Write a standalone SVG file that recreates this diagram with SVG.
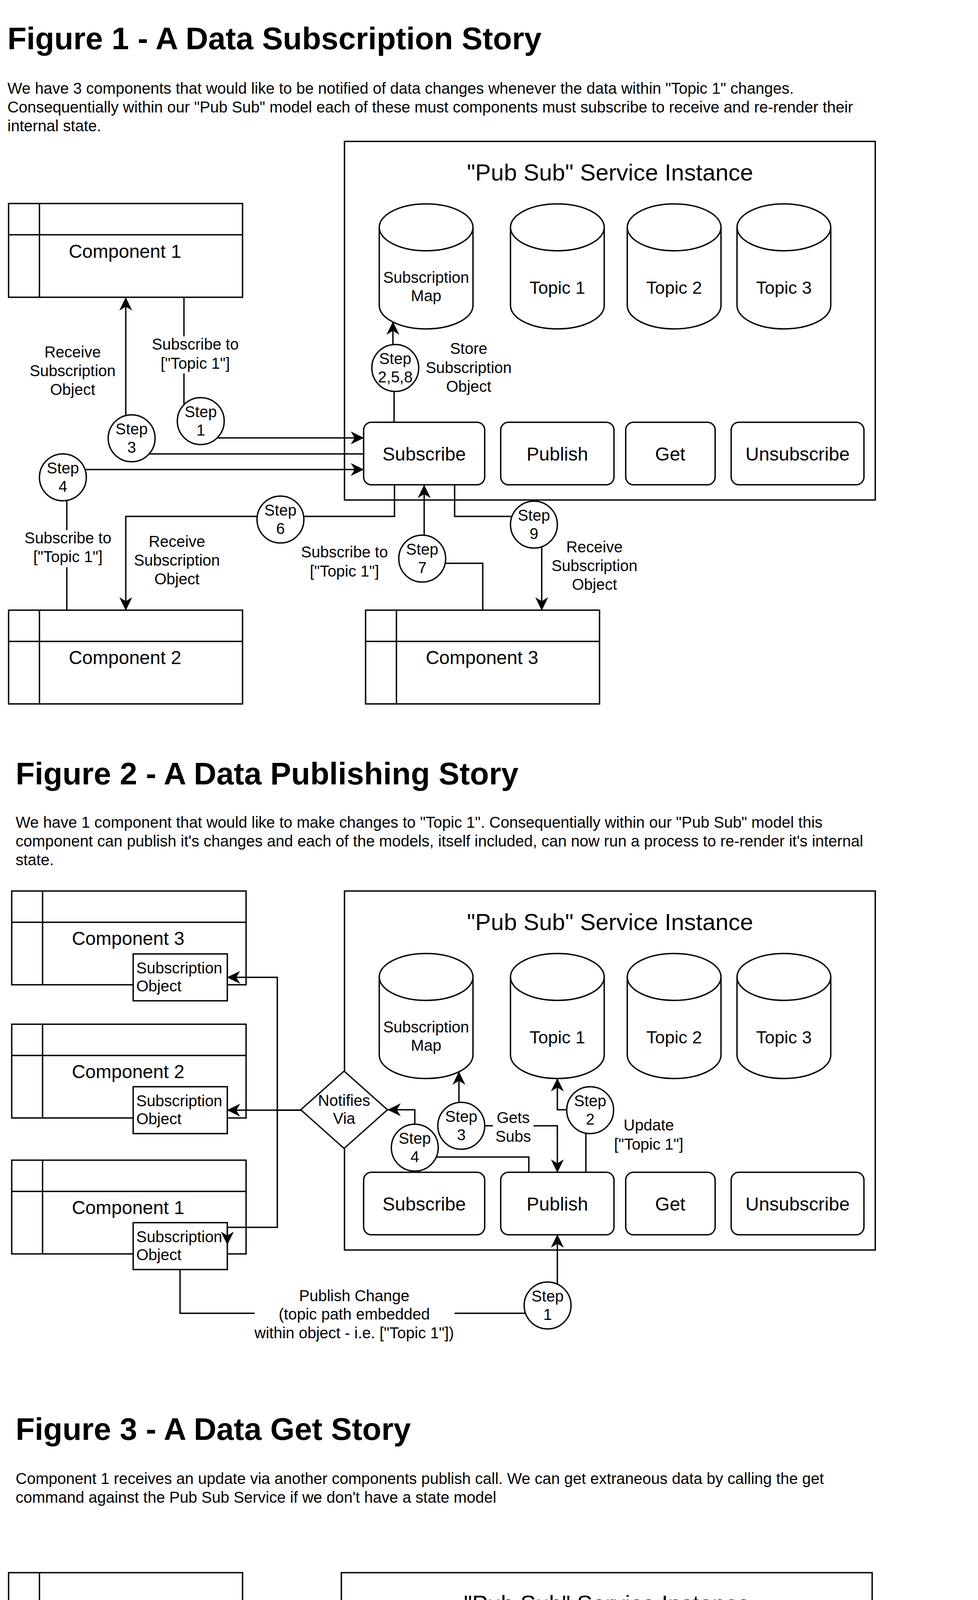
<svg xmlns="http://www.w3.org/2000/svg" width="2504" height="7724" viewBox="0 0 2504 7724">
<defs>
<style>
.b{fill:#fff;stroke:#000;stroke-width:3.5}
.s{fill:none;stroke:#000;stroke-width:3.5}
.e{fill:none;stroke:#000;stroke-width:3.5}
.a{marker-end:url(#arr)}
.w{fill:#fff;stroke:none}
text{font-family:"Liberation Sans",Arial,Helvetica,sans-serif;fill:#000}
.c{text-anchor:middle}
.f40{font-size:40px}
.f45{font-size:45px}
.f48{font-size:48px}
.f60{font-size:60px}
.h{font-size:80px;font-weight:bold}
</style>
<marker id="arr" markerUnits="userSpaceOnUse" markerWidth="34" markerHeight="33" viewBox="0 0 34 33" refX="33" refY="16.5" orient="auto">
<path d="M0,0 L34,16.5 L0,33 L10,16.5 Z" fill="#000"/>
</marker>
</defs>
<rect x="0" y="0" width="2504" height="7724" fill="#fff"/>

<!-- ================= FIGURE 1 ================= -->
<g id="fig1-heading">
<text x="19" y="126" class="h">Figure 1 - A Data Subscription Story</text>
<text x="19" y="240" class="f40">We have 3 components that would like to be notified of data changes whenever the data within "Topic 1" changes.</text>
<text x="19" y="288" class="f40">Consequentially within our "Pub Sub" model each of these must components must subscribe to receive and re-render their</text>
<text x="19" y="336" class="f40">internal state.</text>
</g>
<g id="fig1-service">
<rect x="882" y="362" width="1359" height="918" class="b"/>
<text x="1562" y="462" class="c f60">"Pub Sub" Service Instance</text>
</g>
<g id="fig1-subscription-map">
<path d="M971,582 a120,60 0 0 1 240,0 v200 a120,60 0 0 1 -240,0 z M971,582 a120,60 0 0 0 240,0" class="b"/>
<text x="1091" y="724" class="c f40">Subscription</text><text x="1091" y="771" class="c f40">Map</text>
</g>
<g id="fig1-topic1">
<path d="M1307,582 a120,60 0 0 1 240,0 v200 a120,60 0 0 1 -240,0 z M1307,582 a120,60 0 0 0 240,0" class="b"/>
<text x="1427" y="752" class="c f45">Topic 1</text>
</g>
<g id="fig1-topic2">
<path d="M1606,582 a120,60 0 0 1 240,0 v200 a120,60 0 0 1 -240,0 z M1606,582 a120,60 0 0 0 240,0" class="b"/>
<text x="1726" y="752" class="c f45">Topic 2</text>
</g>
<g id="fig1-topic3">
<path d="M1887,582 a120,60 0 0 1 240,0 v200 a120,60 0 0 1 -240,0 z M1887,582 a120,60 0 0 0 240,0" class="b"/>
<text x="2007" y="752" class="c f45">Topic 3</text>
</g>
<g id="fig1-subscribe"><rect x="931" y="1081" width="310" height="160" rx="20" class="b"/><text x="1086" y="1179" class="c f48">Subscribe</text></g>
<g id="fig1-publish"><rect x="1282" y="1081" width="290" height="160" rx="20" class="b"/><text x="1427" y="1179" class="c f48">Publish</text></g>
<g id="fig1-get"><rect x="1602" y="1081" width="229" height="160" rx="20" class="b"/><text x="1716" y="1179" class="c f48">Get</text></g>
<g id="fig1-unsubscribe"><rect x="1872" y="1081" width="340" height="160" rx="20" class="b"/><text x="2042" y="1179" class="c f48">Unsubscribe</text></g>
<g id="fig1-component1">
<rect x="22" y="521" width="599" height="240" class="b"/><line x1="22" y1="601" x2="621" y2="601" class="s"/><line x1="101" y1="521" x2="101" y2="761" class="s"/>
<text x="320" y="660" class="c f48">Component 1</text>
</g>
<g id="fig1-component2">
<rect x="22" y="1562" width="599" height="240" class="b"/><line x1="22" y1="1642" x2="621" y2="1642" class="s"/><line x1="101" y1="1562" x2="101" y2="1802" class="s"/>
<text x="320" y="1700" class="c f48">Component 2</text>
</g>
<g id="fig1-component3">
<rect x="936" y="1562" width="599" height="240" class="b"/><line x1="936" y1="1642" x2="1535" y2="1642" class="s"/><line x1="1015" y1="1562" x2="1015" y2="1802" class="s"/>
<text x="1234" y="1700" class="c f48">Component 3</text>
</g>
<g id="fig1-connectors">
<path d="M471,762 V1037" class="e"/>
<path d="M557,1121 H931" class="e a"/>
<path d="M931,1162 H382" class="e"/>
<path d="M322,1063 V762" class="e a"/>
<path d="M218,1202 H931" class="e a"/>
<path d="M171,1562 V1281" class="e"/>
<path d="M1009,1081 V1002" class="e"/>
<path d="M1006,882 V824" class="e a"/>
<path d="M1010,1242 V1322 H777" class="e"/>
<path d="M659,1322 H322 V1562" class="e a"/>
<path d="M1086,1370 V1242" class="e a"/>
<path d="M1236,1562 V1442 H1140" class="e"/>
<path d="M1164,1242 V1322 H1310" class="e"/>
<path d="M1387,1399 V1562" class="e a"/>
<rect x="385" y="861" width="230" height="95" class="w"/>
<text x="500" y="895" class="c f40">Subscribe to</text><text x="500" y="944" class="c f40">["Topic 1"]</text>
<rect x="59" y="1357" width="230" height="95" class="w"/>
<text x="174" y="1391" class="c f40">Subscribe to</text><text x="174" y="1439" class="c f40">["Topic 1"]</text>
<text x="186" y="915" class="c f40">Receive</text><text x="186" y="963" class="c f40">Subscription</text><text x="186" y="1011" class="c f40">Object</text>
<text x="1200" y="906" class="c f40">Store</text><text x="1200" y="955" class="c f40">Subscription</text><text x="1200" y="1003" class="c f40">Object</text>
<text x="453" y="1400" class="c f40">Receive</text><text x="453" y="1448" class="c f40">Subscription</text><text x="453" y="1496" class="c f40">Object</text>
<text x="882" y="1427" class="c f40">Subscribe to</text><text x="882" y="1476" class="c f40">["Topic 1"]</text>
<text x="1522" y="1414" class="c f40">Receive</text><text x="1522" y="1462" class="c f40">Subscription</text><text x="1522" y="1510" class="c f40">Object</text>
</g>
<g id="fig1-step1"><circle cx="514" cy="1078" r="60" class="b"/><text x="514" y="1068" class="c f40">Step</text><text x="514" y="1115" class="c f40">1</text></g>
<g id="fig1-step3"><circle cx="337" cy="1122" r="60" class="b"/><text x="337" y="1112" class="c f40">Step</text><text x="337" y="1159" class="c f40">3</text></g>
<g id="fig1-step4"><circle cx="161" cy="1222" r="60" class="b"/><text x="161" y="1212" class="c f40">Step</text><text x="161" y="1259" class="c f40">4</text></g>
<g id="fig1-step258"><circle cx="1012" cy="942" r="60" class="b"/><text x="1012" y="932" class="c f40">Step</text><text x="1012" y="979" class="c f40">2,5,8</text></g>
<g id="fig1-step6"><circle cx="718" cy="1330" r="60" class="b"/><text x="718" y="1320" class="c f40">Step</text><text x="718" y="1367" class="c f40">6</text></g>
<g id="fig1-step7"><circle cx="1081" cy="1430" r="60" class="b"/><text x="1081" y="1420" class="c f40">Step</text><text x="1081" y="1467" class="c f40">7</text></g>
<g id="fig1-step9"><circle cx="1367" cy="1343" r="60" class="b"/><text x="1367" y="1333" class="c f40">Step</text><text x="1367" y="1380" class="c f40">9</text></g>

<!-- ================= FIGURE 2 ================= -->
<g id="fig2-heading">
<text x="40" y="2008" class="h">Figure 2 - A Data Publishing Story</text>
<text x="40" y="2119" class="f40">We have 1 component that would like to make changes to "Topic 1". Consequentially within our "Pub Sub" model this</text>
<text x="40" y="2167" class="f40">component can publish it's changes and each of the models, itself included, can now run a process to re-render it's internal</text>
<text x="40" y="2215" class="f40">state.</text>
</g>
<g id="fig2-service">
<rect x="882" y="2281" width="1359" height="919" class="b"/>
<text x="1562" y="2381" class="c f60">"Pub Sub" Service Instance</text>
</g>
<g id="fig2-subscription-map">
<path d="M971,2501 a120,60 0 0 1 240,0 v200 a120,60 0 0 1 -240,0 z M971,2501 a120,60 0 0 0 240,0" class="b"/>
<text x="1091" y="2643" class="c f40">Subscription</text><text x="1091" y="2690" class="c f40">Map</text>
</g>
<g id="fig2-topic1">
<path d="M1307,2501 a120,60 0 0 1 240,0 v200 a120,60 0 0 1 -240,0 z M1307,2501 a120,60 0 0 0 240,0" class="b"/>
<text x="1427" y="2671" class="c f45">Topic 1</text>
</g>
<g id="fig2-topic2">
<path d="M1606,2501 a120,60 0 0 1 240,0 v200 a120,60 0 0 1 -240,0 z M1606,2501 a120,60 0 0 0 240,0" class="b"/>
<text x="1726" y="2671" class="c f45">Topic 2</text>
</g>
<g id="fig2-topic3">
<path d="M1887,2501 a120,60 0 0 1 240,0 v200 a120,60 0 0 1 -240,0 z M1887,2501 a120,60 0 0 0 240,0" class="b"/>
<text x="2007" y="2671" class="c f45">Topic 3</text>
</g>
<g id="fig2-subscribe"><rect x="931" y="3001" width="310" height="160" rx="20" class="b"/><text x="1086" y="3099" class="c f48">Subscribe</text></g>
<g id="fig2-publish"><rect x="1282" y="3001" width="290" height="160" rx="20" class="b"/><text x="1427" y="3099" class="c f48">Publish</text></g>
<g id="fig2-get"><rect x="1602" y="3001" width="229" height="160" rx="20" class="b"/><text x="1716" y="3099" class="c f48">Get</text></g>
<g id="fig2-unsubscribe"><rect x="1872" y="3001" width="340" height="160" rx="20" class="b"/><text x="2042" y="3099" class="c f48">Unsubscribe</text></g>
<g id="fig2-component3">
<rect x="30" y="2281" width="600" height="240" class="b"/><line x1="30" y1="2361" x2="630" y2="2361" class="s"/><line x1="109" y1="2281" x2="109" y2="2521" class="s"/>
<text x="328" y="2419" class="c f48">Component 3</text>
<rect x="341" y="2442" width="241" height="120" class="b"/>
<text x="349" y="2492" class="f40">Subscription</text><text x="349" y="2538" class="f40">Object</text>
</g>
<g id="fig2-component2">
<rect x="30" y="2622" width="600" height="240" class="b"/><line x1="30" y1="2702" x2="630" y2="2702" class="s"/><line x1="109" y1="2622" x2="109" y2="2862" class="s"/>
<text x="328" y="2760" class="c f48">Component 2</text>
<rect x="341" y="2782" width="241" height="120" class="b"/>
<text x="349" y="2832" class="f40">Subscription</text><text x="349" y="2878" class="f40">Object</text>
</g>
<g id="fig2-component1">
<rect x="30" y="2970" width="600" height="240" class="b"/><line x1="30" y1="3050" x2="630" y2="3050" class="s"/><line x1="109" y1="2970" x2="109" y2="3210" class="s"/>
<text x="328" y="3108" class="c f48">Component 1</text>
<rect x="341" y="3130" width="241" height="120" class="b"/>
<text x="349" y="3180" class="f40">Subscription</text><text x="349" y="3226" class="f40">Object</text>
</g>
<g id="fig2-notifies-via">
<path d="M881,2742 L992,2841 L881,2940 L770,2841 Z" class="b"/>
<text x="881" y="2831" class="c f40">Notifies</text><text x="881" y="2877" class="c f40">Via</text>
</g>
<g id="fig2-connectors">
<path d="M770,2842 H582" class="e a"/>
<path d="M770,2842 H710 V2502 H582" class="e a"/>
<path d="M710,2842 V3142 H582 V3186" class="e a"/>
<path d="M1062,2878 V2841 H993" class="e a"/>
<path d="M1354,3001 V2962 H1117" class="e"/>
<path d="M1175,2822 V2744" class="e a"/>
<path d="M1241,2882 H1427 V3001" class="e a"/>
<path d="M1451,2841 H1427 V2761" class="e a"/>
<path d="M1500,2901 V3001" class="e"/>
<path d="M1427,3287 V3161" class="e a"/>
<path d="M461,3250 V3362 H1345" class="e"/>
<rect x="1262" y="2841" width="104" height="95" class="w"/>
<text x="1314" y="2875" class="c f40">Gets</text><text x="1314" y="2923" class="c f40">Subs</text>
<text x="1661" y="2894" class="c f40">Update</text><text x="1661" y="2943" class="c f40">["Topic 1"]</text>
<rect x="652" y="3297" width="512" height="143" class="w"/>
<text x="907" y="3331" class="c f40">Publish Change</text><text x="907" y="3378" class="c f40">(topic path embedded</text><text x="907" y="3426" class="c f40">within object - i.e. ["Topic 1"])</text>
</g>
<g id="fig2-step4"><circle cx="1062" cy="2938" r="60" class="b"/><text x="1062" y="2928" class="c f40">Step</text><text x="1062" y="2975" class="c f40">4</text></g>
<g id="fig2-step3"><circle cx="1181" cy="2882" r="60" class="b"/><text x="1181" y="2872" class="c f40">Step</text><text x="1181" y="2919" class="c f40">3</text></g>
<g id="fig2-step2"><circle cx="1511" cy="2842" r="60" class="b"/><text x="1511" y="2832" class="c f40">Step</text><text x="1511" y="2879" class="c f40">2</text></g>
<g id="fig2-step1"><circle cx="1402" cy="3342" r="60" class="b"/><text x="1402" y="3332" class="c f40">Step</text><text x="1402" y="3379" class="c f40">1</text></g>

<!-- ================= FIGURE 3 ================= -->
<g id="fig3-heading">
<text x="40" y="3686" class="h">Figure 3 - A Data Get Story</text>
<text x="40" y="3799" class="f40">Component 1 receives an update via another components publish call. We can get extraneous data by calling the get</text>
<text x="40" y="3847" class="f40">command against the Pub Sub Service if we don't have a state model</text>
</g>
<g id="fig3-service">
<rect x="874" y="4026" width="1359" height="919" class="b"/>
<text x="1554" y="4126" class="c f60">"Pub Sub" Service Instance</text>
</g>
<g id="fig3-subscription-map">
<path d="M963,4246 a120,60 0 0 1 240,0 v200 a120,60 0 0 1 -240,0 z M963,4246 a120,60 0 0 0 240,0" class="b"/>
<text x="1083" y="4388" class="c f40">Subscription</text><text x="1083" y="4435" class="c f40">Map</text>
</g>
<g id="fig3-topic1">
<path d="M1299,4246 a120,60 0 0 1 240,0 v200 a120,60 0 0 1 -240,0 z M1299,4246 a120,60 0 0 0 240,0" class="b"/>
<text x="1419" y="4416" class="c f45">Topic 1</text>
</g>
<g id="fig3-topic2">
<path d="M1598,4246 a120,60 0 0 1 240,0 v200 a120,60 0 0 1 -240,0 z M1598,4246 a120,60 0 0 0 240,0" class="b"/>
<text x="1718" y="4416" class="c f45">Topic 2</text>
</g>
<g id="fig3-topic3">
<path d="M1879,4246 a120,60 0 0 1 240,0 v200 a120,60 0 0 1 -240,0 z M1879,4246 a120,60 0 0 0 240,0" class="b"/>
<text x="1999" y="4416" class="c f45">Topic 3</text>
</g>
<g id="fig3-subscribe"><rect x="923" y="4746" width="310" height="160" rx="20" class="b"/><text x="1078" y="4844" class="c f48">Subscribe</text></g>
<g id="fig3-publish"><rect x="1274" y="4746" width="290" height="160" rx="20" class="b"/><text x="1419" y="4844" class="c f48">Publish</text></g>
<g id="fig3-get"><rect x="1594" y="4746" width="229" height="160" rx="20" class="b"/><text x="1708" y="4844" class="c f48">Get</text></g>
<g id="fig3-unsubscribe"><rect x="1864" y="4746" width="340" height="160" rx="20" class="b"/><text x="2034" y="4844" class="c f48">Unsubscribe</text></g>
<g id="fig3-component3">
<rect x="22" y="4026" width="599" height="240" class="b"/><line x1="22" y1="4106" x2="621" y2="4106" class="s"/><line x1="101" y1="4026" x2="101" y2="4266" class="s"/>
<text x="320" y="4164" class="c f48">Component 3</text>
</g>
<g id="fig3-component2">
<rect x="22" y="4366" width="599" height="240" class="b"/><line x1="22" y1="4446" x2="621" y2="4446" class="s"/><line x1="101" y1="4366" x2="101" y2="4606" class="s"/>
<text x="320" y="4504" class="c f48">Component 2</text>
</g>
<g id="fig3-component1">
<rect x="22" y="4714" width="599" height="240" class="b"/><line x1="22" y1="4794" x2="621" y2="4794" class="s"/><line x1="101" y1="4714" x2="101" y2="4954" class="s"/>
<text x="320" y="4852" class="c f48">Component 1</text>
</g>
<g id="fig3-connectors">
<path d="M1503,4545 V4489" class="e a"/>
<path d="M1561,4626 H1709 V4746" class="e a"/>
<path d="M473,5002 V4954" class="e a"/>
<path d="M537,5066 H1651 V4906" class="e"/>
<path d="M1765,5105 V4906" class="e a"/>
<path d="M1709,5185 H172 V4954" class="e"/>
<rect x="1604" y="4587" width="88" height="95" class="w"/>
<text x="1645" y="4621" class="c f40">Get</text><text x="1645" y="4669" class="c f40">Data</text>
<rect x="720" y="5060" width="382" height="46" class="w"/>
<text x="910" y="5094" class="c f40">Return "Topic 1" data</text>
<rect x="784" y="5168" width="276" height="46" class="w"/>
<text x="922" y="5202" class="c f40">Get(["Topic 1"])</text>
</g>
<g id="fig3-step2"><circle cx="1504" cy="4606" r="60" class="b"/><text x="1504" y="4596" class="c f40">Step</text><text x="1504" y="4643" class="c f40">2</text></g>
<g id="fig3-step3"><circle cx="477" cy="5061" r="60" class="b"/><text x="477" y="5051" class="c f40">Step</text><text x="477" y="5098" class="c f40">3</text></g>
<g id="fig3-step1"><circle cx="1765" cy="5165" r="60" class="b"/><text x="1765" y="5155" class="c f40">Step</text><text x="1765" y="5202" class="c f40">1</text></g>

<!-- ================= FIGURE 4 ================= -->
<g id="fig4-heading">
<text x="40" y="5408" class="h">Figure 4 - A Data Un-Subscription Story</text>
<text x="40" y="5519" class="f40">Component 1 is about to unmount from the dom. In order to prevent memory leaks and keep our application lean, we should</text>
<text x="40" y="5567" class="f40">unsubscribe from "Topic 1".</text>
</g>
<g id="fig4-service">
<rect x="874" y="5642" width="1359" height="919" class="b"/>
<text x="1554" y="5742" class="c f60">"Pub Sub" Service Instance</text>
</g>
<g id="fig4-subscription-map">
<path d="M963,5862 a120,60 0 0 1 240,0 v200 a120,60 0 0 1 -240,0 z M963,5862 a120,60 0 0 0 240,0" class="b"/>
<text x="1083" y="6004" class="c f40">Subscription</text><text x="1083" y="6051" class="c f40">Map</text>
</g>
<g id="fig4-topic1">
<path d="M1299,5862 a120,60 0 0 1 240,0 v200 a120,60 0 0 1 -240,0 z M1299,5862 a120,60 0 0 0 240,0" class="b"/>
<text x="1419" y="6032" class="c f45">Topic 1</text>
</g>
<g id="fig4-topic2">
<path d="M1598,5862 a120,60 0 0 1 240,0 v200 a120,60 0 0 1 -240,0 z M1598,5862 a120,60 0 0 0 240,0" class="b"/>
<text x="1718" y="6032" class="c f45">Topic 2</text>
</g>
<g id="fig4-topic3">
<path d="M1879,5862 a120,60 0 0 1 240,0 v200 a120,60 0 0 1 -240,0 z M1879,5862 a120,60 0 0 0 240,0" class="b"/>
<text x="1999" y="6032" class="c f45">Topic 3</text>
</g>
<g id="fig4-subscribe"><rect x="923" y="6362" width="310" height="160" rx="20" class="b"/><text x="1078" y="6460" class="c f48">Subscribe</text></g>
<g id="fig4-publish"><rect x="1274" y="6362" width="290" height="160" rx="20" class="b"/><text x="1419" y="6460" class="c f48">Publish</text></g>
<g id="fig4-get"><rect x="1594" y="6362" width="229" height="160" rx="20" class="b"/><text x="1708" y="6460" class="c f48">Get</text></g>
<g id="fig4-unsubscribe"><rect x="1864" y="6362" width="340" height="160" rx="20" class="b"/><text x="2034" y="6460" class="c f48">Unsubscribe</text></g>
<g id="fig4-component3">
<rect x="22" y="5642" width="599" height="240" class="b"/><line x1="22" y1="5722" x2="621" y2="5722" class="s"/><line x1="101" y1="5642" x2="101" y2="5882" class="s"/>
<text x="320" y="5780" class="c f48">Component 3</text>
<rect x="334" y="5802" width="240" height="120" class="b"/>
<text x="341" y="5852" class="f40">Subscription</text><text x="341" y="5898" class="f40">Object</text>
</g>
<g id="fig4-component2">
<rect x="22" y="5983" width="599" height="240" class="b"/><line x1="22" y1="6063" x2="621" y2="6063" class="s"/><line x1="101" y1="5983" x2="101" y2="6223" class="s"/>
<text x="320" y="6121" class="c f48">Component 2</text>
<rect x="334" y="6141" width="240" height="120" class="b"/>
<text x="341" y="6191" class="f40">Subscription</text><text x="341" y="6237" class="f40">Object</text>
</g>
<g id="fig4-component1">
<rect x="22" y="6331" width="599" height="240" class="b"/><line x1="22" y1="6411" x2="621" y2="6411" class="s"/><line x1="101" y1="6331" x2="101" y2="6571" class="s"/>
<text x="320" y="6469" class="c f48">Component 1</text>
<rect x="334" y="6489" width="240" height="120" class="b"/>
<text x="341" y="6539" class="f40">Subscription</text><text x="341" y="6585" class="f40">Object</text>
</g>
<g id="fig4-connectors">
<path d="M1083,6202 V6122" class="e a"/>
<path d="M1134,6242 H2034 V6362" class="e"/>
<path d="M2034,6642 V6522" class="e a"/>
<path d="M454,6609 V6721 H1977" class="e"/>
<rect x="1280" y="6218" width="580" height="46" class="w"/>
<text x="1570" y="6252" class="c f40">Remove Subscription Reference</text>
<rect x="681" y="6688" width="955" height="94" class="w"/>
<text x="1158" y="6722" class="c f40">Un-Subscribe</text><text x="1158" y="6770" class="c f40">(Sub information contained within Subscription object)</text>
</g>
<g id="fig4-step2"><circle cx="1078" cy="6262" r="60" class="b"/><text x="1078" y="6252" class="c f40">Step</text><text x="1078" y="6299" class="c f40">2</text></g>
<g id="fig4-step1"><circle cx="2034" cy="6702" r="60" class="b"/><text x="2034" y="6692" class="c f40">Step</text><text x="2034" y="6739" class="c f40">1</text></g>

<!-- ================= FIGURE 5 ================= -->
<g id="fig5-heading">
<text x="40" y="7126" class="h">Figure 5 - A Debounce Story</text>
<text x="40" y="7237" class="f40">A component initiates multiple rapid change events in succession. In order to diminish unnecessary renderings a debounce</text>
<text x="40" y="7285" class="f40">function allows you to conserve outgoing change notifications.The following is a visual representation if we build one with 50</text>
<text x="40" y="7333" class="f40">ms of debounce time and 3 rapid function calls to Topic 1 and Topic 2. In the example below we have saved 1 rendering call.</text>
</g>
<g id="fig5-component">
<rect x="22" y="7402" width="481" height="240" class="b"/><line x1="22" y1="7482" x2="503" y2="7482" class="s"/><line x1="101" y1="7402" x2="101" y2="7642" class="s"/>
<text x="260" y="7534" class="c f40">Component</text>
</g>
<g id="fig5-notify-subscribers">
<rect x="1102" y="7402" width="479" height="240" class="b"/><line x1="1150" y1="7402" x2="1150" y2="7642" class="s"/><line x1="1534" y1="7402" x2="1534" y2="7642" class="s"/>
<text x="1342" y="7536" class="c f40">Notify Subscribers</text>
</g>
<g id="fig5-cloud">
<path d="M2155,7481 C2062.2,7481 2039,7563 2113.2,7579.4 C2039,7615.5 2122.5,7694.2 2182.8,7661.4 C2224.6,7727 2363.8,7727 2410.2,7661.4 C2503,7661.4 2503,7595.8 2445,7563 C2503,7497.4 2410.2,7431.8 2329,7464.6 C2271,7415.4 2178.2,7415.4 2155,7481 Z" class="b"/>
</g>
<g id="fig5-connectors">
<path d="M503,7461 H1102" class="e a"/>
<path d="M503,7522 H1102" class="e a"/>
<path d="M503,7582 H1102" class="e a"/>
<path d="M1581,7521 H2260" class="e a"/>
<path d="M1581,7581 H2260" class="e a"/>
<rect x="597" y="7438" width="440" height="46" class="w"/>
<text x="601" y="7475" class="f40">Publish to Topic 1 (0ms)</text>
<rect x="597" y="7499" width="453" height="46" class="w"/>
<text x="601" y="7536" class="f40">Publish to Topic 2 (10ms)</text>
<rect x="597" y="7559" width="453" height="46" class="w"/>
<text x="601" y="7596" class="f40">Publish to Topic 1 (16ms)</text>
<rect x="1604" y="7498" width="606" height="46" class="w"/>
<text x="1607" y="7535" class="f40">Notify Topic 2 Subscribers (60ms)</text>
<rect x="1600" y="7558" width="610" height="46" class="w"/>
<text x="1603" y="7595" class="f40">Notify Topic 1 Subscribers (76ms)</text>
</g>
</svg>
